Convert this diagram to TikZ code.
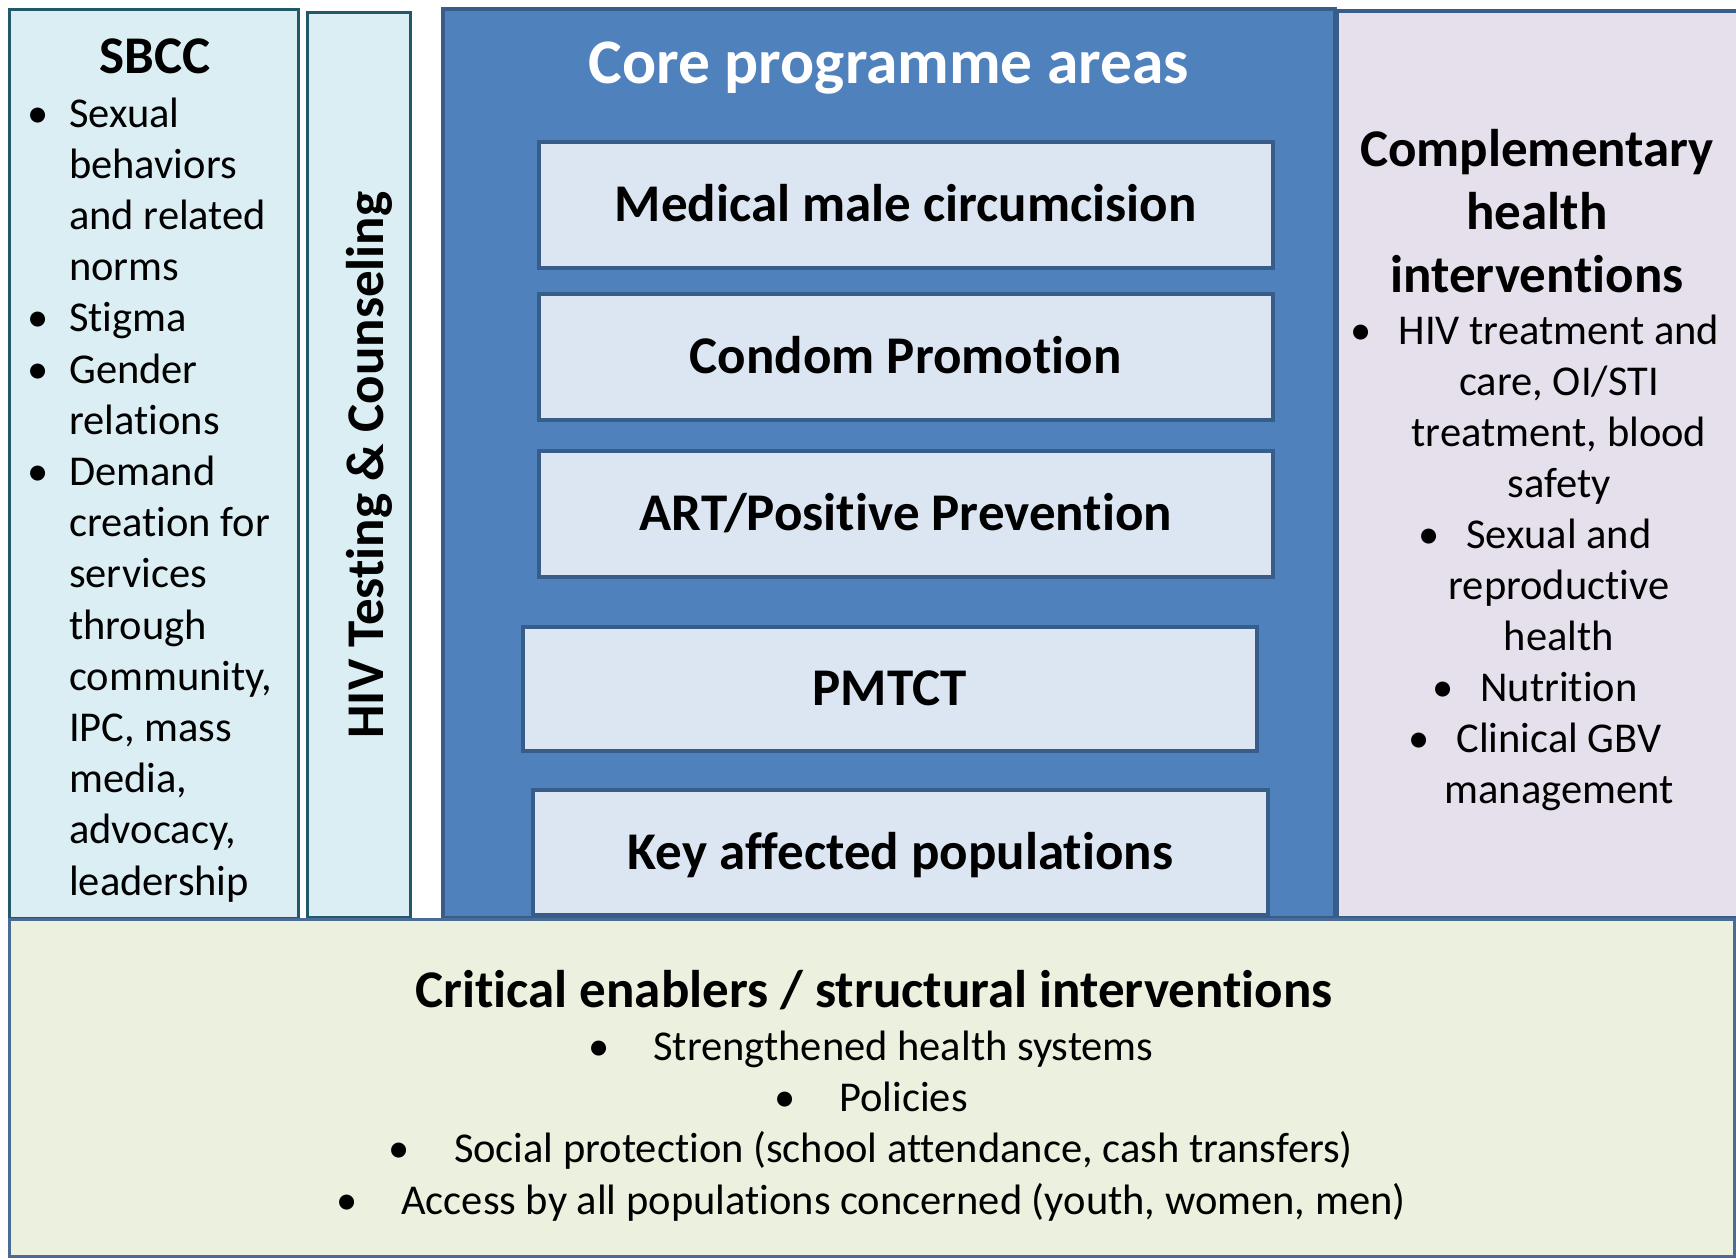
\documentclass[tikz,border=0pt]{standalone}
\usepackage{fontspec}
\setmainfont{Carlito}[Ligatures=NoCommon]
\definecolor{sbccfill}{HTML}{DAEEF3}
\definecolor{sbccline}{HTML}{215968}
\definecolor{corefill}{HTML}{4F81BD}
\definecolor{coreline}{HTML}{385D8A}
\definecolor{areafill}{HTML}{DCE6F2}
\definecolor{compfill}{HTML}{E5E0EC}
\definecolor{enablefill}{HTML}{EBF1DE}
\definecolor{enableline}{HTML}{4A6C94}
\tikzset{
  panel/.style={draw, rectangle, inner sep=0pt, outer sep=0pt},
  sbccpanel/.style={panel, fill=sbccfill, draw=sbccline, line width=3pt},
  corepanel/.style={panel, fill=corefill, draw=coreline, line width=4pt},
  comppanel/.style={panel, fill=compfill, draw=coreline, line width=4pt},
  enablepanel/.style={panel, fill=enablefill, draw=enableline, line width=3pt},
  area/.style={panel, fill=areafill, draw=coreline, line width=4pt,
    minimum width=734.5pt, minimum height=126pt,
    font=\fontsize{53}{62}\selectfont\bfseries, text height=33pt, text depth=0pt},
  head/.style={inner sep=0pt, anchor=base, font=\fontsize{53}{63}\selectfont\bfseries},
  body/.style={inner sep=0pt, font=\fontsize{42.5}{51.2}\selectfont}
}
\newcommand{\bul}[1]{\llap{\textbullet\hspace{#1}}}

\begin{document}
\begin{tikzpicture}[x=1pt, y=-1pt]
 \fill[white] (0,0) rectangle (1736,1258);
 \useasboundingbox (0,0) rectangle (1736,1258);

 \node[sbccpanel, minimum width=289pt, minimum height=909pt] (sbcc)  at (154,464) {};
 \node[sbccpanel, minimum width=103pt, minimum height=905pt] (hivtc) at (359,465) {};
 \node[corepanel, minimum width=892pt, minimum height=909pt] (core)  at (889,463.5) {};
 \node[comppanel, minimum width=401pt, minimum height=907pt] (comp)  at (1537.5,464.5) {};

 \node[area] (mmc)    at (905.75,205)   {Medical male circumcision};
 \node[area] (condom) at (905.75,356.5) {Condom Promotion};
 \node[area] (art)    at (905.75,513.75) {ART/Positive Prevention};
 \node[area, minimum height=124pt] (pmtct) at (889.75,689) {PMTCT};
 \node[area, minimum width=735pt, minimum height=125pt] (kap) at (900.5,852.5) {Key affected populations};

 \node[enablepanel, minimum width=1725pt, minimum height=337pt] (enab) at (872,1088) {};

 \node[head] (sbcctitle) at (155,73) {SBCC};
 \node[body, align=left, anchor=base west] (sbcclist) at (69,895)
   {\bul{21pt}Sexual\\behaviors\\and related\\norms\\\bul{21pt}Stigma\\\bul{21pt}Gender\\relations\\%
    \bul{21pt}Demand\\creation for\\services\\through\\community,\\IPC, mass\\media,\\advocacy,\\leadership};

 \node[head, rotate=90] (hivlabel) at (383,465) {HIV Testing \& Counseling};

 \node[head, text=white, font=\fontsize{63.5}{72}\selectfont\bfseries] (coretitle) at (889,83) {Core programme areas};

 \node[head, align=center] (comptitle) at (1537,292) {Complementary\\health\\interventions};
 \node[body, align=center, anchor=base, font=\fontsize{42.5}{51}\selectfont] (complist) at (1559,803)
   {\bul{27pt}HIV treatment and\\care, OI/STI\\treatment, blood\\safety\\\bul{27pt}Sexual and\\reproductive\\health\\%
    \bul{27pt}Nutrition\\\bul{27pt}Clinical GBV\\management};

 \node[head] (enabtitle) at (874,1007) {Critical enablers / structural interventions};
 \node[body, align=center, anchor=base, font=\fontsize{42.5}{51.2}\selectfont] (enablist) at (903.5,1214)
   {\bul{44pt}Strengthened health systems\\\bul{44pt}Policies\\%
    \bul{44pt}Social protection (school attendance, cash transfers)\\%
    \bul{44pt}Access by all populations concerned (youth, women, men)};
\end{tikzpicture}
\end{document}
